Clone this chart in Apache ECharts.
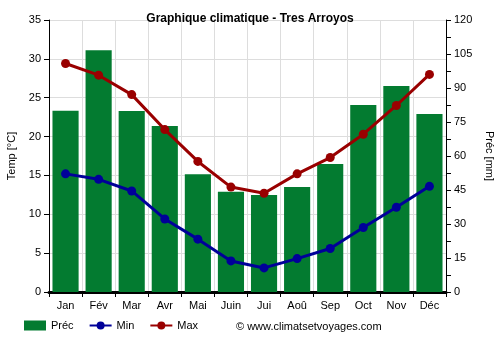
<!DOCTYPE html>
<html>
<head>
<meta charset="utf-8">
<script src="https://cdn.jsdelivr.net/npm/echarts@6/dist/echarts.min.js"></script>
<style>
  html, body { margin: 0; padding: 0; background: #fff; }
  #chart { width: 500px; height: 350px; }
</style>
</head>
<body>
<div id="chart"></div>
<script>
// Monthly climate data for Tres Arroyos
const months = ['Jan', 'Fév', 'Mar', 'Avr', 'Mai', 'Juin', 'Jui', 'Aoû', 'Sep', 'Oct', 'Nov', 'Déc'];
const precip = [80, 106.7, 79.8, 73.2, 52, 44.2, 42.8, 46.3, 56.5, 82.5, 90.9, 78.5];
const tempMin = [15.2, 14.5, 13.0, 9.4, 6.8, 4.0, 3.1, 4.3, 5.6, 8.3, 10.9, 13.6];
const tempMax = [29.4, 27.9, 25.4, 20.9, 16.8, 13.5, 12.7, 15.2, 17.3, 20.3, 24.0, 28.0];

const FONT = 'Liberation Sans, Arial, sans-serif';
const chart = echarts.init(document.getElementById('chart'), null, { renderer: 'canvas' });

chart.setOption({
  animation: false,
  textStyle: { fontFamily: FONT },
  title: {
    text: 'Graphique climatique - Tres Arroyos',
    left: 'center',
    top: 8,
    textStyle: { fontSize: 12, fontWeight: 'bold', color: '#000', fontFamily: FONT }
  },
  grid: { left: 49, right: 54, top: 20, bottom: 58, outerBoundsMode: 'none', containLabel: false },
  legend: {
    bottom: 14,
    left: 19,
    itemWidth: 22,
    itemHeight: 10,
    itemGap: 15,
    textStyle: { fontSize: 11, color: '#000', fontFamily: FONT },
    data: [
      { name: 'Préc', icon: 'rect' },
      { name: 'Min' },
      { name: 'Max' }
    ]
  },
  graphic: [{
    type: 'text',
    left: 236,
    bottom: 18,
    style: { text: '© www.climatsetvoyages.com', fontSize: 11, fill: '#000', fontFamily: FONT }
  }],
  xAxis: {
    type: 'category',
    data: months,
    boundaryGap: true,
    axisLine: { lineStyle: { color: '#000', width: 3 } },
    axisTick: { show: true, length: 5, lineStyle: { color: '#000' } },
    axisLabel: { fontSize: 11, color: '#000', margin: 8 },
    splitLine: { show: true, lineStyle: { color: '#dddddd', width: 1 } }
  },
  yAxis: [
    {
      type: 'value',
      min: 0, max: 35, interval: 5,
      name: 'Temp [°C]',
      nameLocation: 'middle',
      nameGap: 32,
      nameRotate: 90,
      nameTextStyle: { fontSize: 11, color: '#000' },
      axisLine: { show: true, lineStyle: { color: '#000' } },
      axisTick: { show: true, length: 5, lineStyle: { color: '#000' } },
      axisLabel: { fontSize: 11, color: '#000', margin: 8 },
      splitLine: { show: true, lineStyle: { color: '#dddddd' } }
    },
    {
      type: 'value',
      min: 0, max: 120, interval: 15,
      name: 'Préc [mm]',
      nameLocation: 'middle',
      nameGap: 37,
      nameRotate: -90,
      nameTextStyle: { fontSize: 11, color: '#000' },
      position: 'right',
      axisLine: { show: true, lineStyle: { color: '#000' } },
      axisTick: { show: true, length: 5, lineStyle: { color: '#000' } },
      minorTick: { show: true, splitNumber: 2, length: 5, lineStyle: { color: '#000' } },
      axisLabel: { fontSize: 11, color: '#000', margin: 8 },
      splitLine: { show: false }
    }
  ],
  series: [
    {
      name: 'Préc',
      type: 'bar',
      yAxisIndex: 1,
      data: precip,
      barCategoryGap: '21%',
      itemStyle: { color: '#037b30' },
      z: 2
    },
    {
      name: 'Min',
      type: 'line',
      yAxisIndex: 0,
      data: tempMin,
      symbol: 'circle',
      symbolSize: 9,
      lineStyle: { color: '#000099', width: 3 },
      itemStyle: { color: '#000099' },
      z: 3
    },
    {
      name: 'Max',
      type: 'line',
      yAxisIndex: 0,
      data: tempMax,
      symbol: 'circle',
      symbolSize: 9,
      lineStyle: { color: '#990000', width: 3 },
      itemStyle: { color: '#990000' },
      z: 4
    }
  ]
});
</script>
</body>
</html>
